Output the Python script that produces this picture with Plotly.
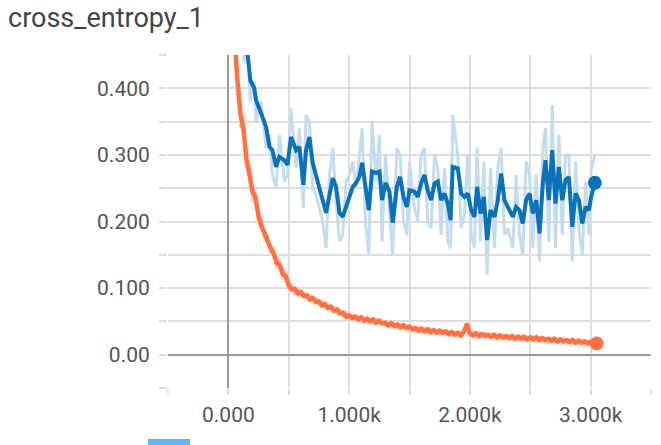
import plotly.graph_objects as go

# ---------------- data ----------------
title_text = "cross_entropy_1"

x_tick_vals = [-500, 0, 500, 1000, 1500, 2000, 2500, 3000, 3500]
x_tick_text = ["", "0.000", "", "1.000k", "", "2.000k", "", "3.000k", ""]
y_tick_vals = [-0.05, 0.0, 0.05, 0.1, 0.15, 0.2, 0.25, 0.3, 0.35, 0.4, 0.45]
y_tick_text = ["", "0.00", "", "0.100", "", "0.200", "", "0.300", "", "0.400", ""]

train_steps = list(range(25, 3051, 25))
train_smoothed = [
    0.600, 0.478, 0.412, 0.362, 0.338, 0.293, 0.270, 0.245, 0.236, 0.208,
    0.193, 0.182, 0.168, 0.160, 0.152, 0.138, 0.135, 0.121, 0.118, 0.104,
    0.098, 0.099, 0.092, 0.094, 0.088, 0.089, 0.083, 0.085, 0.079, 0.080,
    0.074, 0.076, 0.070, 0.072, 0.066, 0.068, 0.062, 0.063, 0.057, 0.059,
    0.055, 0.057, 0.053, 0.056, 0.051, 0.054, 0.050, 0.053, 0.048, 0.051,
    0.047, 0.048, 0.044, 0.047, 0.043, 0.045, 0.041, 0.044, 0.040, 0.042,
    0.038, 0.040, 0.036, 0.039, 0.035, 0.038, 0.034, 0.037, 0.033, 0.036,
    0.033, 0.035, 0.031, 0.034, 0.030, 0.033, 0.029, 0.034, 0.046, 0.032,
    0.029, 0.032, 0.028, 0.031, 0.028, 0.030, 0.027, 0.030, 0.026, 0.029,
    0.026, 0.028, 0.025, 0.028, 0.024, 0.027, 0.024, 0.027, 0.023, 0.026,
    0.023, 0.026, 0.022, 0.025, 0.022, 0.024, 0.021, 0.024, 0.020, 0.023,
    0.020, 0.022, 0.019, 0.022, 0.018, 0.021, 0.018, 0.020, 0.017, 0.019,
    0.017, 0.017,
]
train_raw = [
    0.640, 0.470, 0.430, 0.340, 0.360, 0.280, 0.285, 0.230, 0.250, 0.195,
    0.205, 0.170, 0.180, 0.150, 0.162, 0.128, 0.145, 0.112, 0.128, 0.096,
    0.106, 0.090, 0.100, 0.086, 0.095, 0.082, 0.090, 0.078, 0.086, 0.073,
    0.081, 0.069, 0.077, 0.065, 0.073, 0.061, 0.068, 0.057, 0.063, 0.053,
    0.061, 0.051, 0.059, 0.049, 0.057, 0.047, 0.056, 0.046, 0.054, 0.045,
    0.052, 0.043, 0.050, 0.040, 0.048, 0.039, 0.047, 0.037, 0.045, 0.036,
    0.043, 0.034, 0.042, 0.032, 0.041, 0.031, 0.040, 0.030, 0.038, 0.030,
    0.037, 0.029, 0.036, 0.027, 0.035, 0.026, 0.034, 0.030, 0.050, 0.028,
    0.034, 0.026, 0.033, 0.025, 0.033, 0.024, 0.032, 0.024, 0.031, 0.023,
    0.030, 0.022, 0.030, 0.021, 0.029, 0.021, 0.029, 0.020, 0.028, 0.020,
    0.027, 0.019, 0.027, 0.018, 0.026, 0.018, 0.026, 0.017, 0.025, 0.017,
    0.024, 0.016, 0.024, 0.015, 0.023, 0.015, 0.022, 0.014, 0.021, 0.014,
    0.020, 0.016,
]

val_steps = [
    100, 130, 160, 182, 215, 229, 270, 312, 340, 365, 395, 422, 464, 490,
    519, 561, 588, 621, 643, 671, 698, 726, 754, 781, 809, 837, 864, 892,
    920, 947, 975, 1003, 1030, 1058, 1085, 1108, 1135, 1163, 1190, 1224,
    1251, 1273, 1301, 1334, 1361, 1395, 1422, 1450, 1478, 1500, 1541, 1568,
    1596, 1624, 1651, 1679, 1707, 1734, 1762, 1790, 1817, 1840, 1858, 1900,
    1928, 1955, 1983, 2011, 2038, 2060, 2088, 2115, 2143, 2171, 2204, 2231,
    2259, 2287, 2314, 2356, 2383, 2411, 2438, 2466, 2494, 2521, 2549, 2577,
    2604, 2626, 2654, 2682, 2709, 2737, 2765, 2792, 2820, 2848, 2875, 2903,
    2931, 2958, 2986, 3005, 3035,
]
val_smoothed = [
    0.520, 0.470, 0.450, 0.412, 0.400, 0.382, 0.363, 0.342, 0.312, 0.307, 0.282, 0.297, 0.292, 0.285,
    0.327, 0.307, 0.312, 0.255, 0.307, 0.327, 0.288, 0.267, 0.247, 0.232, 0.213, 0.237, 0.265, 0.252,
    0.213, 0.207, 0.222, 0.237, 0.252, 0.258, 0.267, 0.288, 0.252, 0.217, 0.275, 0.273,
    0.275, 0.232, 0.258, 0.245, 0.198, 0.252, 0.267, 0.237, 0.222, 0.247, 0.245, 0.237,
    0.257, 0.270, 0.247, 0.232, 0.257, 0.260, 0.232, 0.242, 0.227, 0.202, 0.282, 0.280,
    0.242, 0.237, 0.242, 0.217, 0.207, 0.252, 0.212, 0.237, 0.172, 0.217, 0.207, 0.232,
    0.272, 0.232, 0.222, 0.207, 0.222, 0.217, 0.197, 0.232, 0.242, 0.212, 0.232, 0.182,
    0.257, 0.292, 0.232, 0.307, 0.227, 0.282, 0.232, 0.262, 0.267, 0.192, 0.242, 0.232,
    0.197, 0.222, 0.217, 0.237, 0.258,
]
val_raw = [
    0.550, 0.440, 0.470, 0.380, 0.410, 0.350, 0.380, 0.310, 0.330, 0.270, 0.250, 0.330, 0.260, 0.270,
    0.370, 0.280, 0.340, 0.220, 0.360, 0.350, 0.250, 0.240, 0.220, 0.200, 0.160, 0.270, 0.310, 0.230,
    0.170, 0.180, 0.260, 0.270, 0.290, 0.250, 0.300, 0.340, 0.200, 0.150, 0.350, 0.260,
    0.330, 0.170, 0.300, 0.220, 0.150, 0.310, 0.300, 0.200, 0.180, 0.290, 0.220, 0.200,
    0.300, 0.310, 0.200, 0.190, 0.300, 0.280, 0.180, 0.280, 0.170, 0.160, 0.360, 0.300,
    0.190, 0.210, 0.300, 0.180, 0.160, 0.310, 0.170, 0.290, 0.120, 0.280, 0.160, 0.280,
    0.310, 0.180, 0.190, 0.160, 0.270, 0.180, 0.150, 0.290, 0.270, 0.160, 0.270, 0.140,
    0.310, 0.340, 0.170, 0.375, 0.160, 0.330, 0.180, 0.300, 0.300, 0.140, 0.290, 0.190,
    0.150, 0.260, 0.180, 0.280, 0.300,
]

# ---------------- style ----------------
ORANGE = "#ff7043"
ORANGE_LIGHT = "#fcd2c3"
BLUE = "#0b72b9"
BLUE_LIGHT = "#c3dcee"
FONT = "Roboto"

fig = go.Figure()
fig.add_trace(go.Scatter(x=train_steps, y=train_raw, mode="lines",
                         line=dict(color=ORANGE_LIGHT, width=3), hoverinfo="skip"))
fig.add_trace(go.Scatter(x=val_steps, y=val_raw, mode="lines",
                         line=dict(color=BLUE_LIGHT, width=3), hoverinfo="skip"))
fig.add_trace(go.Scatter(x=train_steps, y=train_smoothed, mode="lines",
                         line=dict(color=ORANGE, width=4.5)))
fig.add_trace(go.Scatter(x=val_steps, y=val_smoothed, mode="lines",
                         line=dict(color=BLUE, width=4)))
fig.add_trace(go.Scatter(x=[train_steps[-1]], y=[train_smoothed[-1]], mode="markers",
                         marker=dict(color=ORANGE, size=14)))
fig.add_trace(go.Scatter(x=[val_steps[-1]], y=[val_smoothed[-1]], mode="markers",
                         marker=dict(color=BLUE, size=14)))

fig.update_layout(
    width=661, height=445,
    margin=dict(l=168, r=10, t=55, b=57),
    paper_bgcolor="white", plot_bgcolor="white",
    showlegend=False,
    font=dict(family=FONT, color="#555555"),
    annotations=[dict(text=title_text, xref="paper", yref="paper",
                      x=(6 - 168) / 483, y=1 + (55 - 18) / 333,
                      xanchor="left", yanchor="middle", showarrow=False,
                      font=dict(family=FONT, size=27, color="#444444"))],
    shapes=[dict(type="rect", xref="paper", yref="paper",
                 x0=(148 - 168) / 483, x1=(190 - 168) / 483,
                 y0=(388 - 460) / 333, y1=(388 - 439) / 333,
                 fillcolor="#64b5f6", line=dict(width=0), layer="above")],
)
fig.update_xaxes(
    range=[-500, 3500], tickvals=x_tick_vals, ticktext=x_tick_text,
    showgrid=True, gridcolor="#dddddd", gridwidth=1.5,
    zeroline=True, zerolinecolor="#9a9a9a", zerolinewidth=2,
    ticks="outside", ticklen=6, tickcolor="#dddddd", tickwidth=1.5,
    ticklabelstandoff=2,
    tickfont=dict(family=FONT, size=21, color="#555555"),
    showline=False, fixedrange=True,
)
fig.update_yaxes(
    range=[-0.05, 0.45], tickvals=y_tick_vals, ticktext=y_tick_text,
    showgrid=True, gridcolor="#dddddd", gridwidth=1.5,
    zeroline=True, zerolinecolor="#9a9a9a", zerolinewidth=2,
    ticks="outside", ticklen=8, tickcolor="#dddddd", tickwidth=1.5,
    ticklabelstandoff=5,
    tickfont=dict(family=FONT, size=21, color="#555555"),
    showline=False, fixedrange=True,
)

fig.write_html("out.html", config={"displayModeBar": False})
